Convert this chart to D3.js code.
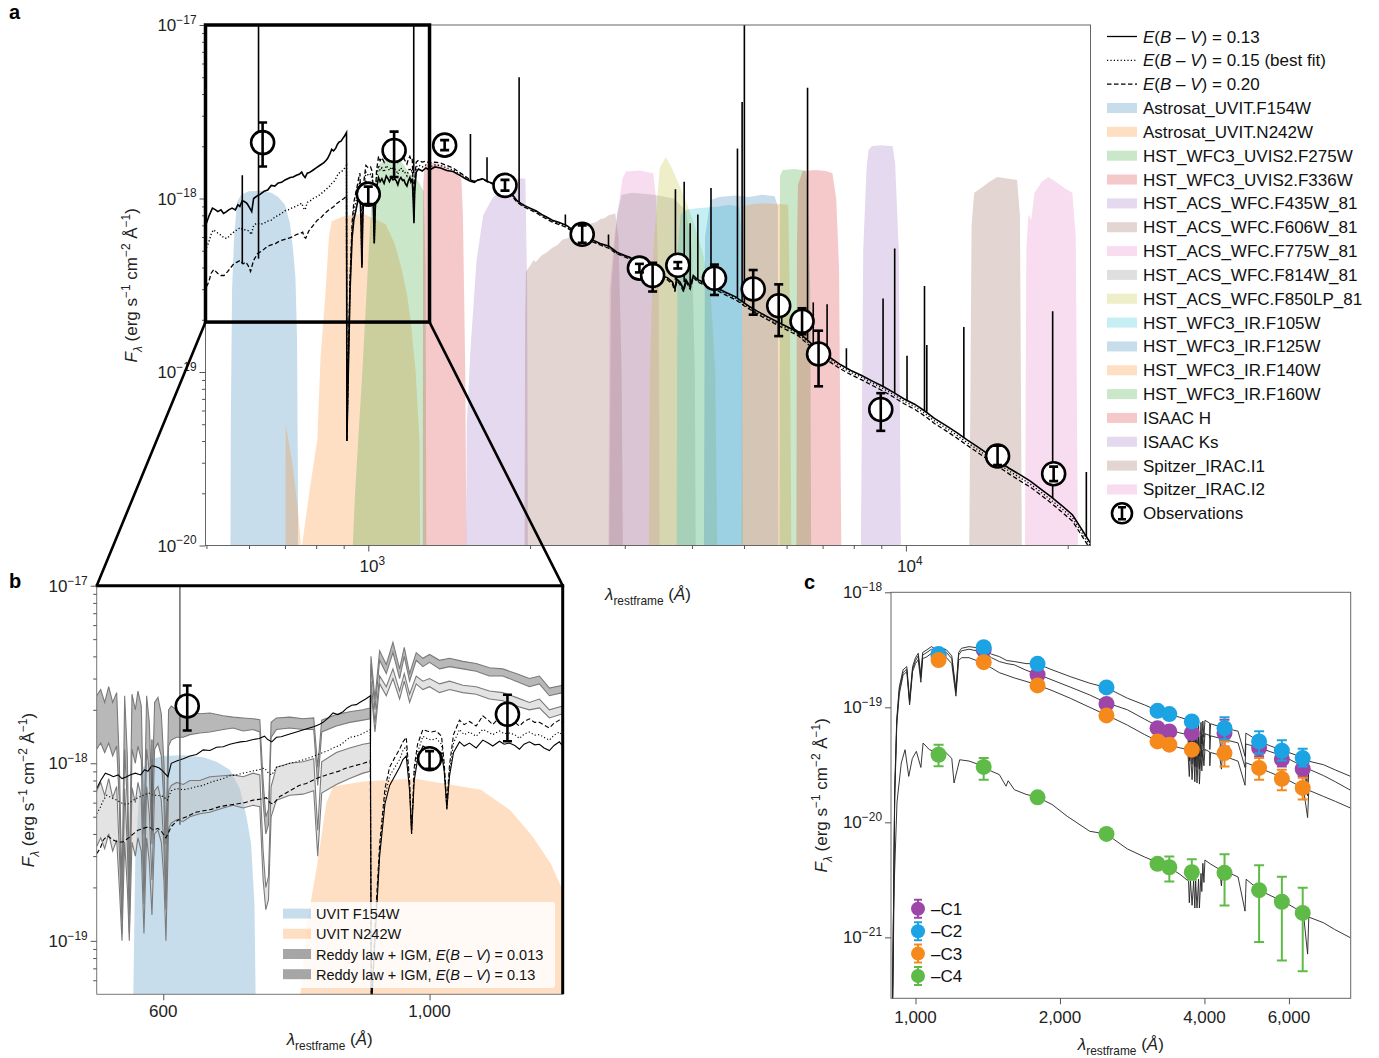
<!DOCTYPE html>
<html>
<head>
<meta charset="utf-8">
<script src="https://cdn.jsdelivr.net/npm/d3@7"></script>
<style>
body { margin: 0; background: #fff; }
svg { font-family: "Liberation Sans", Arial, sans-serif; }
</style>
</head>
<body>
<svg id="chart"></svg>
<script>
const W = 1379, H = 1058;
const UNIT = 1e-18;   // panel a/b fluxes are stored in units of 1e-18 erg/s/cm2/A
const CUNIT = 1e-20;  // panel c fluxes are stored in units of 1e-20

// ---------------- filter curves (rest-frame wavelength, flux-scaled height) ----------------
const bandF154W = [[553,0.001],[555,0.05],[558,0.30],[563,0.60],[570,0.95],[580,1.05],[600,1.10],[630,1.11],[660,1.08],[680,1.02],[700,0.92],[715,0.72],[725,0.50],[732,0.35],[737,0.16],[740,0.02],[741,0.001]];
const bandN242W = [[701,0.001],[702,0.05],[722,0.03],[740,0.016],[750,0.0098],[752,0.0098],[780,0.022],[804,0.041],[815,0.12],[832,0.28],[845,0.60],[855,0.74],[900,0.79],[977,0.82],[1021,0.77],[1077,0.71],[1121,0.545],[1155,0.386],[1182,0.273],[1200,0.193],[1225,0.10],[1245,0.04],[1255,0.001]];
const bandF275W = [[927,0.005],[945,0.02],[961,0.048],[975,0.10],[991,0.26],[1005,0.6],[1014,0.98],[1045,1.56],[1077,1.67],[1110,1.70],[1148,1.65],[1199,1.37],[1240,1.25],[1268,1.1],[1278,0.4],[1285,0.001]];
const bandF336W = [[1262,0.001],[1265,1.2],[1272,1.55],[1300,1.62],[1350,1.58],[1400,1.5],[1450,1.42],[1490,1.30],[1500,0.8],[1515,0.1],[1530,0.001]];
const bandF435W = [[1512,0.001],[1525,0.05],[1549,0.134],[1590,0.44],[1636,0.80],[1700,1.0],[1800,1.2],[1903,1.31],[1960,1.30],[1975,0.3],[1985,0.001]];
const bandF606W = [[1950,0.001],[1958,0.2],[1965,0.38],[2000,0.41],[2030,0.44],[2050,0.43],[2100,0.47],[2150,0.49],[2200,0.52],[2250,0.54],[2300,0.58],[2350,0.59],[2400,0.63],[2450,0.64],[2500,0.67],[2550,0.69],[2600,0.72],[2650,0.73],[2700,0.76],[2750,0.77],[2800,0.80],[2880,0.82],[2920,0.6],[2960,0.1],[2990,0.001]];
const bandF775W = [[2790,0.001],[2810,0.3],[2870,0.6],[2920,0.9],[2970,1.3],[3015,1.43],[3200,1.45],[3390,1.40],[3430,1.0],[3470,0.3],[3490,0.001]];
const bandF814W = [[2790,0.001],[2830,0.3],[2900,0.8],[2960,1.05],[3100,1.08],[3400,1.05],[3700,1.0],[3900,0.85],[4000,0.5],[4050,0.1],[4080,0.001]];
const bandF850LP = [[3315,0.001],[3340,0.1],[3391,0.5],[3484,1.5],[3575,1.73],[3650,1.55],[3745,1.30],[3880,1.0],[4024,0.735],[4180,0.5],[4325,0.313],[4420,0.1],[4490,0.001]];
const bandF105W = [[3740,0.001],[3760,0.5],[3810,0.81],[3900,0.86],[4100,0.88],[4300,0.89],[4500,0.90],[4700,0.92],[4900,0.90],[4950,0.6],[4990,0.001]];
const bandF125W = [[4200,0.001],[4230,0.6],[4330,0.98],[4500,1.02],[4800,1.04],[5100,1.02],[5400,1.05],[5700,1.03],[5780,0.9],[5800,0.001]];
const bandF140W = [[4940,0.001],[4960,0.9],[5200,0.93],[5500,0.94],[5800,0.93],[6040,0.92],[6080,0.3],[6150,0.001]];
const bandF160W = [[5815,0.001],[5830,1.35],[5900,1.46],[6200,1.48],[6500,1.45],[6560,1.2],[6640,0.3],[6680,0.001]];
const bandH = [[6250,0.001],[6270,0.5],[6300,1.2],[6430,1.44],[6800,1.46],[7100,1.44],[7300,1.40],[7420,1.0],[7510,0.4],[7630,0.001]];
const bandKs = [[8200,0.001],[8330,0.5],[8450,1.5],[8520,1.90],[8650,2.01],[9000,2.03],[9450,2.0],[9550,1.6],[9700,0.5],[9840,0.001]];
const bandI1 = [[13050,0.001],[13250,0.7],[13400,1.08],[13800,1.15],[14300,1.25],[14800,1.33],[15500,1.30],[16100,1.28],[16300,0.8],[16500,0.001]];
const bandI2 = [[16600,0.001],[16750,0.5],[16900,0.81],[17100,0.75],[17350,1.08],[17900,1.25],[18400,1.33],[19000,1.25],[19700,1.15],[20400,1.08],[20700,0.6],[21000,0.001]];

const filterNames = ['Astrosat_UVIT.F154W','Astrosat_UVIT.N242W','HST_WFC3_UVIS2.F275W','HST_WFC3_UVIS2.F336W',
  'HST_ACS_WFC.F435W_81','HST_ACS_WFC.F606W_81','HST_ACS_WFC.F775W_81','HST_ACS_WFC.F814W_81','HST_ACS_WFC.F850LP_81',
  'HST_WFC3_IR.F105W','HST_WFC3_IR.F125W','HST_WFC3_IR.F140W','HST_WFC3_IR.F160W','ISAAC H','ISAAC Ks','Spitzer_IRAC.I1','Spitzer_IRAC.I2'];
const filterCurves = [bandF154W,bandN242W,bandF275W,bandF336W,bandF435W,bandF606W,bandF775W,bandF814W,bandF850LP,
  bandF105W,bandF125W,bandF140W,bandF160W,bandH,bandKs,bandI1,bandI2];
const tab10 = ['#1f77b4','#ff7f0e','#2ca02c','#d62728','#9467bd','#8c564b','#e377c2','#7f7f7f','#bcbd22','#17becf'];

// ---------------- model spectra (rest-frame A, flux / 1e-18) ----------------
const specE013 = [[500,0.72],[506,0.80],[513,0.88],[520,0.86],[525,0.84],[532,0.86],[538,0.82],[545,0.84],[550,0.86],[558,0.88],[566,0.86],[572,0.92],[577,0.90],[583,0.97],[588,0.96],[594,0.94],[597,0.92],[602,0.88],[607,0.84],[612,1.00],[620,1.03],[630,1.06],[640,1.10],[650,1.12],[660,1.19],[670,1.18],[680,1.23],[690,1.24],[700,1.28],[708,1.30],[716,1.32],[725,1.33],[735,1.36],[744,1.38],[752,1.42],[757,1.36],[763,1.32],[770,1.40],[777,1.41],[790,1.46],[800,1.50],[812,1.55],[827,1.61],[835,1.66],[840,1.70],[848,1.80],[855,1.92],[862,1.88],[870,1.95],[876,2.05],[883,2.12],[890,2.14],[895,2.20],[904,2.30],[911,2.40],
  [912.5,0.04],[918,0.10],[925,0.30],[933,0.59],[940,0.75],[948,0.85],[955,0.95],[960,1.05],[965,1.10],[970,0.70],[973,0.40],[977,0.80],[982,1.05],[990,1.25],[996,1.22],[1003,1.18],[1010,1.20],[1018,1.14],[1022,0.90],[1026,0.55],[1030,0.85],[1036,1.15],[1045,1.32],[1052,1.25],[1060,1.30],[1070,1.22],[1080,1.35],[1088,1.30],[1095,1.25],[1105,1.33],[1112,1.28],[1120,1.30],[1128,1.26],[1135,1.20],[1142,1.28],[1150,1.32],[1158,1.27],[1165,1.28],[1172,1.22],[1180,1.18],[1187,1.26],[1195,1.32],[1200,1.25],[1207,1.30],[1212,1.00],[1216,0.72],[1220,1.10],[1228,1.42],[1240,1.48],[1260,1.44],[1280,1.50],[1300,1.46],[1330,1.52],[1363,1.50],[1400,1.45],[1438,1.43],[1480,1.36],[1517,1.30],[1545,1.26],[1575,1.24],[1600,1.28],[1632,1.30],[1680,1.24],[1724,1.21],[1760,1.20],[1785,1.18],[1820,1.12],[1850,1.06],[1886,0.98],[1920,0.94],[1954,0.91],[2000,0.88],[2050,0.85],[2101,0.81],[2150,0.78],[2200,0.75],[2260,0.73],[2338,0.70],[2400,0.66],[2460,0.63],[2515,0.61],[2600,0.58],[2700,0.55],[2805,0.53],[2900,0.49],[3000,0.47],[3071,0.457],[3200,0.41],[3300,0.39],[3360,0.378],[3500,0.36],[3600,0.35],[3680,0.33],[3720,0.30],[3745,0.344],[3800,0.33],[3860,0.30],[3900,0.34],[3970,0.31],[4024,0.36],[4100,0.34],[4200,0.33],[4300,0.32],[4405,0.313],[4500,0.30],[4650,0.285],[4823,0.271],[5000,0.25],[5100,0.24],[5280,0.225],[5500,0.21],[5775,0.194],[6000,0.183],[6318,0.169],[6600,0.150],[6912,0.133],[7200,0.122],[7564,0.110],[7900,0.102],[8276,0.0954],[8700,0.088],[9057,0.0827],[9500,0.076],[9910,0.0701],[10400,0.065],[10860,0.0594],[11300,0.054],[11880,0.0491],[12400,0.045],[13000,0.0406],[13600,0.037],[14230,0.0336],[14900,0.0305],[15580,0.0278],[16300,0.0256],[17040,0.0235],[17800,0.0212],[18660,0.019],[19500,0.0170],[20420,0.015],[21200,0.0125],[22100,0.0102]];
const specE015 = [[500,0.52],[505,0.56],[510,0.62],[515,0.66],[522,0.64],[530,0.62],[540,0.59],[547,0.59],[555,0.62],[562,0.64],[570,0.66],[578,0.68],[585,0.66],[592,0.66],[600,0.65],[606,0.62],[612,0.70],[620,0.72],[630,0.71],[640,0.72],[650,0.74],[660,0.75],[670,0.78],[680,0.80],[690,0.82],[700,0.85],[710,0.86],[720,0.88],[732,0.90],[744,0.92],[752,0.94],[758,0.88],[763,0.86],[770,0.95],[780,0.97],[790,1.00],[800,1.02],[812,1.05],[827,1.10],[840,1.15],[848,1.18],[855,1.22],[865,1.26],[872,1.32],[880,1.40],[890,1.42],[898,1.46],[904,1.50],[911,1.55],
  [912.5,0.04],[918,0.11],[925,0.32],[933,0.65],[940,0.85],[948,0.95],[955,1.05],[960,1.18],[965,1.25],[970,0.75],[973,0.40],[977,0.88],[982,1.15],[990,1.42],[996,1.38],[1003,1.35],[1010,1.38],[1018,1.28],[1022,0.95],[1026,0.55],[1030,0.90],[1036,1.30],[1045,1.55],[1052,1.45],[1060,1.50],[1070,1.42],[1080,1.55],[1088,1.50],[1095,1.45],[1105,1.52],[1112,1.47],[1120,1.48],[1128,1.45],[1135,1.38],[1142,1.46],[1150,1.50],[1158,1.44],[1165,1.45],[1172,1.40],[1180,1.35],[1187,1.44],[1195,1.50],[1200,1.43],[1207,1.46],[1212,1.10],[1216,0.75],[1220,1.20],[1228,1.52],[1240,1.56],[1260,1.52],[1280,1.56],[1300,1.52],[1330,1.56],[1363,1.55],[1400,1.50],[1438,1.46],[1480,1.38],[1517,1.32],[1545,1.27],[1575,1.25],[1600,1.28],[1632,1.30],[1680,1.24],[1724,1.21],[1760,1.19],[1785,1.17],[1820,1.11],[1850,1.05],[1886,0.97],[1920,0.93],[1954,0.90],[2000,0.87],[2050,0.84],[2101,0.80],[2150,0.77],[2200,0.74],[2260,0.72],[2338,0.69],[2400,0.65],[2460,0.62],[2515,0.60],[2600,0.57],[2700,0.545],[2805,0.52],[2900,0.485],[3000,0.465],[3071,0.452],[3200,0.405],[3300,0.385],[3360,0.374],[3500,0.355],[3600,0.345],[3680,0.325],[3720,0.295],[3745,0.34],[3800,0.325],[3860,0.295],[3900,0.335],[3970,0.305],[4024,0.355],[4100,0.335],[4200,0.325],[4300,0.315],[4405,0.308],[4500,0.295],[4650,0.28],[4823,0.266],[5000,0.245],[5100,0.236],[5280,0.221],[5500,0.206],[5775,0.19],[6000,0.179],[6318,0.165],[6600,0.147],[6912,0.130],[7200,0.119],[7564,0.107],[7900,0.0995],[8276,0.093],[8700,0.0858],[9057,0.0805],[9500,0.074],[9910,0.068],[10400,0.063],[10860,0.0575],[11300,0.0523],[11880,0.0475],[12400,0.0435],[13000,0.0392],[13600,0.0357],[14230,0.0324],[14900,0.0294],[15580,0.0268],[16300,0.0246],[17040,0.0226],[17800,0.0204],[18660,0.0182],[19500,0.0163],[20420,0.0144],[21200,0.0120],[22100,0.0098]];
const specE020 = [[500,0.31],[505,0.33],[510,0.37],[516,0.39],[525,0.37],[532,0.36],[539,0.36],[548,0.38],[555,0.40],[562,0.42],[570,0.43],[578,0.44],[585,0.42],[592,0.43],[598,0.41],[604,0.38],[612,0.44],[622,0.48],[635,0.50],[649,0.53],[660,0.54],[672,0.55],[685,0.57],[697,0.58],[710,0.59],[722,0.60],[735,0.62],[748,0.63],[755,0.64],[760,0.60],[765,0.59],[775,0.65],[790,0.70],[804,0.75],[815,0.77],[830,0.82],[845,0.86],[863,0.90],[875,0.94],[888,0.97],[901,1.00],[911,1.03],
  [912.5,0.04],[918,0.12],[925,0.35],[933,0.72],[940,0.95],[948,1.08],[955,1.20],[960,1.32],[965,1.40],[970,0.80],[973,0.42],[977,0.95],[982,1.28],[990,1.55],[996,1.52],[1003,1.50],[1010,1.52],[1018,1.42],[1022,1.00],[1026,0.60],[1030,0.98],[1036,1.45],[1045,1.75],[1052,1.65],[1060,1.72],[1070,1.62],[1080,1.85],[1088,1.75],[1095,1.65],[1105,1.82],[1112,1.72],[1120,1.75],[1128,1.70],[1135,1.62],[1142,1.72],[1150,1.78],[1158,1.70],[1165,1.70],[1172,1.64],[1180,1.58],[1187,1.68],[1195,1.75],[1200,1.68],[1207,1.70],[1212,1.20],[1216,0.78],[1220,1.30],[1228,1.62],[1240,1.66],[1260,1.62],[1280,1.64],[1300,1.60],[1330,1.62],[1363,1.60],[1400,1.55],[1438,1.50],[1480,1.41],[1517,1.34],[1545,1.28],[1575,1.26],[1600,1.28],[1632,1.29],[1680,1.23],[1724,1.20],[1760,1.18],[1785,1.16],[1820,1.10],[1850,1.04],[1886,0.96],[1920,0.92],[1954,0.89],[2000,0.86],[2050,0.83],[2101,0.79],[2150,0.76],[2200,0.73],[2260,0.71],[2338,0.68],[2400,0.645],[2460,0.615],[2515,0.595],[2600,0.565],[2700,0.54],[2805,0.515],[2900,0.48],[3000,0.46],[3071,0.447],[3200,0.40],[3300,0.38],[3360,0.37],[3500,0.35],[3600,0.34],[3680,0.32],[3720,0.29],[3745,0.335],[3800,0.32],[3860,0.29],[3900,0.33],[3970,0.30],[4024,0.35],[4100,0.33],[4200,0.32],[4300,0.31],[4405,0.303],[4500,0.29],[4650,0.275],[4823,0.261],[5000,0.241],[5100,0.232],[5280,0.217],[5500,0.202],[5775,0.186],[6000,0.175],[6318,0.161],[6600,0.143],[6912,0.126],[7200,0.115],[7564,0.104],[7900,0.0965],[8276,0.0900],[8700,0.0830],[9057,0.0778],[9500,0.0715],[9910,0.0658],[10400,0.0608],[10860,0.0555],[11300,0.0505],[11880,0.0458],[12400,0.0419],[13000,0.0378],[13600,0.0344],[14230,0.0312],[14900,0.0283],[15580,0.0258],[16300,0.0236],[17040,0.0217],[17800,0.0196],[18660,0.0175],[19500,0.0156],[20420,0.0138],[21200,0.0115],[22100,0.0094]];

// emission lines: [wavelength, base, peak]
const emissionLines = [[583,0.42,1.36],[625,0.45,10.5],[1215,1.40,11],[1549,1.27,2.35],[1663,1.25,1.73],[1908,0.95,5.0],[2326,0.70,0.81],[2798,0.53,0.62],
  [3727,0.34,1.13],[3869,0.33,1.25],[3970,0.32,0.72],[4102,0.34,0.81],[4340,0.32,1.15],[4861,0.268,1.94],[4959,0.255,3.6],[5007,0.25,11],
  [5876,0.19,0.28],[6563,0.154,4.35],[6725,0.146,0.252],[7136,0.124,0.246],[7751,0.106,0.137],[9069,0.0825,0.265],[9532,0.0755,0.515],
  [10049,0.068,0.124],[10830,0.06,0.313],[10938,0.059,0.143],[12818,0.0415,0.182],[18751,0.0188,0.224],[21661,0.0112,0.0265]];

// observations: wavelength, flux, lower, upper (1e-18)
const obsLambda = [636,1000,1117,1387,1796,2500,3194,3380,3765,4405,5200,5800,6410,6880,8980,14810,18830];
const obsFlux   = [2.10,1.06,1.89,2.03,1.19,0.622,0.397,0.360,0.412,0.347,0.301,0.241,0.196,0.127,0.0608,0.0328,0.0259];
const obsLo     = [1.53,0.93,1.33,1.90,1.11,0.555,0.375,0.291,0.395,0.278,0.214,0.161,0.165,0.0827,0.0458,0.0291,0.0235];
const obsHi     = [2.74,1.17,2.43,2.17,1.28,0.70,0.42,0.426,0.43,0.416,0.387,0.320,0.233,0.173,0.0755,0.0376,0.0285];

// panel b: Reddy law + IGM model bands [wavelength, lower, upper]
const reddy013 = [[500,1.20,2.40],[506,1.30,2.60],[512,1.15,2.20],[518,1.30,2.70],[524,1.10,2.20],[530,1.25,2.50],[534,0.60,1.00],[538,0.11,0.20],[542,1.20,2.40],[546,0.60,1.10],[549,0.11,0.22],[553,1.20,2.45],[558,1.00,2.00],[562,1.25,2.55],[567,1.05,2.10],[571,0.20,0.40],[575,1.20,2.40],[579,0.90,1.70],[583,0.35,0.60],[587,1.20,2.20],[592,1.30,2.35],[597,1.10,1.90],[601,0.60,1.00],[604,0.17,0.35],[608,1.25,2.00],[612,1.35,2.10],[620,1.40,2.00],[630,1.40,1.92],[640,1.45,1.95],[655,1.48,1.90],[670,1.50,1.92],[690,1.55,1.85],[705,1.58,1.82],[720,1.52,1.80],[735,1.55,1.78],[745,1.50,1.76],[750,0.60,0.80],[754,0.40,0.50],[758,0.45,0.55],[762,1.40,1.70],[770,1.55,1.80],[790,1.58,1.82],[810,1.55,1.78],[826,1.55,1.80],[832,0.75,0.95],[838,1.50,1.75],[860,1.62,1.88],[880,1.70,1.95],[900,1.75,2.00],[911,1.78,2.05],
  [912,3.6,4.0],[918,2.0,2.3],[925,3.8,4.3],[935,3.2,3.6],[945,4.2,4.8],[955,3.0,3.4],[962,4.0,4.5],[970,2.9,3.2],[980,3.8,4.2],[990,3.5,3.9],[1000,3.7,4.1],[1015,3.4,3.8],[1030,3.5,3.9],[1050,3.4,3.75],[1070,3.3,3.65],[1090,3.1,3.45],[1110,3.1,3.4],[1130,2.9,3.2],[1150,2.7,3.0],[1165,2.8,3.1],[1180,2.4,2.65],[1200,2.5,2.75]];
const reddy13 = [[500,0.34,0.70],[506,0.38,0.78],[512,0.33,0.66],[518,0.40,0.82],[524,0.32,0.64],[530,0.37,0.74],[534,0.20,0.32],[538,0.10,0.13],[542,0.36,0.72],[546,0.20,0.34],[549,0.10,0.14],[553,0.36,0.73],[558,0.30,0.60],[562,0.38,0.78],[567,0.32,0.64],[571,0.11,0.16],[575,0.38,0.74],[579,0.28,0.52],[583,0.14,0.22],[587,0.40,0.70],[592,0.42,0.74],[597,0.36,0.62],[601,0.22,0.34],[604,0.10,0.15],[608,0.43,0.70],[612,0.46,0.75],[620,0.48,0.78],[630,0.47,0.76],[640,0.50,0.80],[655,0.52,0.80],[670,0.53,0.84],[690,0.56,0.85],[705,0.58,0.86],[720,0.56,0.84],[735,0.58,0.88],[745,0.57,0.86],[750,0.22,0.32],[754,0.15,0.20],[758,0.17,0.23],[762,0.50,0.74],[770,0.62,0.95],[790,0.66,1.00],[810,0.67,1.02],[826,0.70,1.06],[832,0.30,0.42],[838,0.68,1.02],[860,0.76,1.15],[880,0.82,1.22],[900,0.88,1.28],[911,0.90,1.30],
  [912,2.6,2.9],[918,1.5,1.7],[925,2.8,3.1],[935,2.4,2.7],[945,3.0,3.4],[955,2.3,2.55],[962,2.9,3.2],[970,2.2,2.45],[980,2.8,3.1],[990,2.6,2.9],[1000,2.7,3.0],[1015,2.5,2.8],[1030,2.6,2.9],[1050,2.5,2.75],[1070,2.45,2.7],[1090,2.3,2.55],[1110,2.25,2.5],[1130,2.1,2.35],[1150,2.0,2.2],[1165,2.05,2.3],[1180,1.8,2.0],[1200,1.9,2.1]];

// ---------------- panel c: clumps C1-C4 (flux / 1e-20) ----------------
const cLambda = [1117,1387,1796,2500,3194,3380,3765,4405,5200,5800,6410];
const c1Flux = [28.0,31.6,19.2,10.7,6.59,6.17,5.97,5.97,4.43,3.55,2.91];
const c1Lo   = [26.6,30.0,18.3,10.2,6.26,5.86,5.67,4.56,3.75,3.06,2.52];
const c1Hi   = [29.4,33.2,20.2,11.2,6.92,6.48,6.27,7.81,5.05,4.13,3.39];
const c2Flux = [29.1,33.3,23.9,14.9,9.32,8.73,7.54,6.59,5.05,4.19,3.62];
const c2Lo   = [27.6,31.6,22.7,14.2,8.85,8.29,7.16,5.24,3.97,3.45,3.06];
const c2Hi   = [30.6,35.0,25.1,15.6,9.79,9.17,7.92,8.18,6.18,5.16,4.37];
const c3Flux = [25.8,24.7,15.5,8.50,5.05,4.73,4.28,4.00,2.97,2.39,1.99];
const c3Lo   = [24.5,23.5,14.7,8.08,4.80,4.49,4.07,3.06,2.35,1.90,1.58];
const c3Hi   = [27.1,25.9,16.3,8.93,5.30,4.97,4.49,5.05,3.62,2.87,2.44];
const c4Flux = [3.87,3.03,1.65,0.793,0.436,0.407,0.368,0.364,0.257,0.204,0.163];
const c4Lo   = [3.07,2.35,1.58,0.76,0.42,0.306,0.316,0.189,0.091,0.063,0.0507];
const c4Hi   = [4.73,3.62,1.72,0.83,0.455,0.505,0.477,0.527,0.424,0.336,0.27];

const c1Model = [[895,0.02],[905,1.8],[914,7.5],[925,14.0],[942,20.0],[959,21.5],[972,11.0],[986,21.5],[1000,25.5],[1013,28.0],[1026,18.0],[1035,28.5],[1056,30.0],[1079,32.0],[1109,30.0],[1140,31.0],[1160,30.0],[1190,26.5],[1214,13.5],[1230,28.5],[1247,31.0],[1293,32.0],[1340,31.0],[1386,30.5],[1440,27.0],[1495,25.0],[1550,24.0],[1607,23.4],[1700,21.0],[1791,19.5],[1925,17.3],[2100,15.0],[2307,12.8],[2493,11.0],[2764,9.52],[3000,7.9],[3206,6.82],[3373,6.38],[3550,6.0],[3692,5.78],[3720,3.4],[3740,5.7],[3770,3.2],[3798,5.65],[3820,3.05],[3835,5.6],[3860,3.0],[3889,5.55],[3905,2.9],[3935,5.6],[3950,3.7],[3970,5.8],[3990,4.2],[4010,5.9],[4101,5.7],[4105,4.3],[4120,5.65],[4300,5.4],[4340,4.0],[4360,5.35],[4408,5.25],[4700,4.9],[4861,3.0],[4880,4.8],[5205,4.45],[5500,4.1],[5855,3.75],[6200,3.3],[6430,3.07],[6563,1.7],[6600,2.9],[7080,2.55],[7500,2.25],[8066,1.90]];
const c2Model = [[895,0.02],[905,2.0],[914,8.0],[925,15.0],[942,21.2],[959,22.6],[972,11.6],[986,22.6],[1000,27.0],[1013,29.5],[1026,19.0],[1035,30.0],[1056,31.6],[1079,33.7],[1109,31.6],[1140,32.5],[1160,31.6],[1190,28.0],[1214,14.2],[1230,30.0],[1247,32.6],[1293,33.7],[1340,33.0],[1386,32.6],[1440,29.0],[1495,27.6],[1550,25.5],[1607,25.0],[1700,24.0],[1791,23.9],[1925,21.2],[2100,18.5],[2307,16.2],[2493,14.9],[2764,12.0],[3000,10.5],[3206,9.32],[3373,8.73],[3550,8.2],[3692,7.79],[3720,4.5],[3740,7.6],[3770,4.2],[3798,7.5],[3820,4.0],[3835,7.4],[3860,3.9],[3889,7.3],[3905,3.75],[3935,7.4],[3950,4.8],[3970,7.6],[3990,5.5],[4010,7.7],[4101,7.3],[4105,5.5],[4120,7.2],[4300,6.8],[4340,5.0],[4360,6.7],[4408,6.59],[4700,6.2],[4861,3.75],[4880,5.97],[5205,5.05],[5500,4.6],[5855,4.19],[6200,3.85],[6430,3.62],[6563,2.0],[6600,3.4],[7080,3.17],[7500,2.85],[8066,2.51]];
const c3Model = [[895,0.02],[905,1.6],[914,7.0],[925,13.0],[942,19.0],[959,20.5],[972,10.5],[986,20.5],[1000,24.0],[1013,26.0],[1026,16.5],[1035,26.5],[1056,27.5],[1079,29.5],[1109,27.0],[1140,28.0],[1160,27.0],[1190,24.0],[1214,12.5],[1230,25.5],[1247,27.0],[1293,27.0],[1340,25.5],[1386,24.2],[1440,22.0],[1495,20.0],[1550,19.0],[1607,18.0],[1700,16.8],[1791,15.7],[1925,14.0],[2100,12.0],[2307,10.0],[2493,8.62],[2764,7.0],[3000,5.8],[3206,5.05],[3373,4.73],[3550,4.45],[3692,4.28],[3720,2.5],[3740,4.25],[3770,2.35],[3798,4.2],[3820,2.25],[3835,4.15],[3860,2.2],[3889,4.1],[3905,2.15],[3935,4.15],[3950,2.8],[3970,4.25],[3990,3.1],[4010,4.3],[4101,4.1],[4105,3.1],[4120,4.05],[4300,3.85],[4340,2.9],[4360,3.8],[4408,3.75],[4700,3.4],[4861,2.1],[4880,3.3],[5205,2.97],[5500,2.7],[5855,2.43],[6200,2.15],[6430,1.99],[6563,1.1],[6600,1.9],[7080,1.68],[7500,1.52],[8066,1.33]];
const c4Model = [[895,0.02],[903,0.3],[915,1.5],[934,3.28],[951,4.28],[968,2.51],[985,3.6],[1004,4.14],[1026,3.0],[1037,4.89],[1069,4.28],[1100,4.1],[1117,3.9],[1160,4.0],[1190,3.6],[1203,2.20],[1220,2.8],[1236,3.50],[1293,3.41],[1350,3.2],[1416,2.87],[1495,2.60],[1544,2.06],[1560,2.3],[1607,1.92],[1700,1.75],[1796,1.65],[1925,1.43],[2070,1.13],[2307,0.836],[2500,0.79],[2764,0.587],[3000,0.5],[3206,0.444],[3380,0.405],[3561,0.352],[3706,0.308],[3720,0.20],[3740,0.31],[3770,0.19],[3798,0.31],[3820,0.18],[3835,0.31],[3860,0.18],[3889,0.32],[3905,0.18],[3935,0.36],[3950,0.25],[3970,0.44],[3990,0.30],[4010,0.47],[4115,0.435],[4300,0.39],[4340,0.28],[4360,0.38],[4424,0.376],[4700,0.335],[4861,0.169],[4887,0.32],[5205,0.257],[5500,0.23],[5855,0.204],[6200,0.178],[6430,0.163],[6563,0.0715],[6600,0.15],[7080,0.134],[7475,0.117],[8066,0.099]];

const compNames = ['–C1','–C2','–C3','–C4'];
const compColors = ['#9d46a8','#1ba3e3','#f5891c','#5fbb47'];

// ---------------- helpers ----------------
const svg = d3.select('#chart').attr('width', W).attr('height', H);
const defs = svg.append('defs');

function rich(textSel, parts, size) {
  let shift = 0;
  parts.forEach(p => {
    const target = p.sup ? -0.42 * size : p.sub ? 0.32 * size : 0;
    const ts = textSel.append('tspan').attr('dy', target - shift).text(p.t);
    if (p.sup || p.sub) ts.attr('font-size', size * 0.7);
    if (p.i) ts.attr('font-style', 'italic');
    shift = target;
  });
  return textSel;
}

function logMinor(lo, hi) {
  const out = [];
  for (let e = Math.floor(Math.log10(lo)); e <= Math.ceil(Math.log10(hi)); e++) {
    for (let m = 2; m <= 9; m++) {
      const v = m * Math.pow(10, e);
      if (v > lo && v < hi) out.push(v);
    }
  }
  return out;
}

function tickAxis(g, axisFn, scale, values, size) {
  g.call(axisFn(scale).tickValues(values).tickFormat('').tickSize(size).tickSizeOuter(0))
    .call(s => s.select('.domain').remove())
    .call(s => s.selectAll('line').attr('stroke', '#555').attr('stroke-width', 1));
}

function expLabel(g, x, y, exp, anchor) {
  const t = g.append('text').attr('x', x).attr('y', y).attr('text-anchor', anchor)
    .attr('font-size', 17).attr('fill', '#222');
  rich(t, [{t: '10'}, {t: exp, sup: true}], 17);
}

function yTitle(g, x, y) {
  const t = g.append('text').attr('transform', `translate(${x},${y}) rotate(-90)`)
    .attr('text-anchor', 'middle').attr('font-size', 17).attr('fill', '#222');
  rich(t, [{t: 'F', i: 1}, {t: 'λ', sub: 1, i: 1}, {t: ' (erg s'}, {t: '−1', sup: 1}, {t: ' cm'}, {t: '−2', sup: 1}, {t: ' Å'}, {t: '−1', sup: 1}, {t: ')'}], 17);
}

function xTitle(g, x, y) {
  const t = g.append('text').attr('x', x).attr('y', y).attr('text-anchor', 'middle')
    .attr('font-size', 17).attr('fill', '#222');
  rich(t, [{t: 'λ', i: 1}, {t: 'restframe', sub: 1}, {t: ' ('}, {t: 'Å', i: 1}, {t: ')'}], 17);
}

function clip(id, x0, y0, x1, y1) {
  defs.append('clipPath').attr('id', id).append('rect')
    .attr('x', x0).attr('y', y0).attr('width', x1 - x0).attr('height', y1 - y0);
  return `url(#${id})`;
}

function ebvParts(val) {
  return [{t: 'E', i: 1}, {t: '('}, {t: 'B', i: 1}, {t: ' – '}, {t: 'V', i: 1}, {t: ') = ' + val}];
}

const lineStyles = [
  {dash: null, w: 1.6},
  {dash: '1.2,2.2', w: 1.4},
  {dash: '4.5,2.5', w: 1.3}
];
const specs = [specE013, specE015, specE020];

// =================== PANEL A ===================
const A = {x0: 205.5, x1: 1090.5, y0: 25, y1: 545.5};
const xA = d3.scaleLog().domain([498, 22050]).range([A.x0, A.x1]);
const yA = d3.scaleLog().domain([1e-20, 1e-17]).range([A.y1, A.y0]);
const gA = svg.append('g');
const plotA = gA.append('g').attr('clip-path', clip('clipA', A.x0, A.y0, A.x1, A.y1));

const areaA = d3.area().x(d => xA(d[0])).y0(A.y1 + 5).y1(d => yA(d[1] * UNIT));
plotA.selectAll('path.filter').data(filterCurves).join('path')
  .attr('class', 'filter')
  .attr('d', areaA)
  .attr('fill', (d, i) => tab10[i % 10])
  .attr('fill-opacity', 0.25);

const lineA = d3.line().x(d => xA(d[0])).y(d => yA(d[1] * UNIT));
plotA.selectAll('path.spec').data(specs).join('path')
  .attr('class', 'spec')
  .attr('d', lineA)
  .attr('fill', 'none').attr('stroke', '#000')
  .attr('stroke-width', (d, i) => lineStyles[i].w)
  .attr('stroke-dasharray', (d, i) => lineStyles[i].dash);

plotA.selectAll('line.em').data(emissionLines).join('line')
  .attr('class', 'em')
  .attr('x1', d => xA(d[0])).attr('x2', d => xA(d[0]))
  .attr('y1', d => yA(d[1] * UNIT)).attr('y2', d => yA(d[2] * UNIT))
  .attr('stroke', '#000').attr('stroke-width', 1.6);

function drawObs(g, xs, ys, idx, r) {
  const gg = g.append('g');
  gg.selectAll('circle').data(idx).join('circle')
    .attr('cx', i => xs(obsLambda[i])).attr('cy', i => ys(obsFlux[i] * UNIT)).attr('r', r)
    .attr('fill', '#fff').attr('stroke', '#000').attr('stroke-width', 2.6);
  const eb = gg.selectAll('g.eb').data(idx).join('g').attr('class', 'eb');
  eb.append('line')
    .attr('x1', i => xs(obsLambda[i])).attr('x2', i => xs(obsLambda[i]))
    .attr('y1', i => ys(obsLo[i] * UNIT)).attr('y2', i => ys(obsHi[i] * UNIT));
  eb.append('line')
    .attr('x1', i => xs(obsLambda[i]) - 4.5).attr('x2', i => xs(obsLambda[i]) + 4.5)
    .attr('y1', i => ys(obsLo[i] * UNIT)).attr('y2', i => ys(obsLo[i] * UNIT));
  eb.append('line')
    .attr('x1', i => xs(obsLambda[i]) - 4.5).attr('x2', i => xs(obsLambda[i]) + 4.5)
    .attr('y1', i => ys(obsHi[i] * UNIT)).attr('y2', i => ys(obsHi[i] * UNIT));
  eb.selectAll('line').attr('stroke', '#000').attr('stroke-width', 2.6);
}
drawObs(plotA, xA, yA, d3.range(obsLambda.length), 11.5);

// frame + ticks
gA.append('rect').attr('x', A.x0).attr('y', A.y0).attr('width', A.x1 - A.x0).attr('height', A.y1 - A.y0)
  .attr('fill', 'none').attr('stroke', '#666').attr('stroke-width', 1);
tickAxis(gA.append('g').attr('transform', `translate(${A.x0},0)`), d3.axisLeft, yA, [1e-20, 1e-19, 1e-18, 1e-17], 6);
tickAxis(gA.append('g').attr('transform', `translate(${A.x0},0)`), d3.axisLeft, yA, logMinor(1e-20, 1e-17), 3.5);
tickAxis(gA.append('g').attr('transform', `translate(0,${A.y1})`), d3.axisBottom, xA, [1e3, 1e4], 6);
tickAxis(gA.append('g').attr('transform', `translate(0,${A.y1})`), d3.axisBottom, xA, logMinor(498, 22050), 3.5);
[-20, -19, -18, -17].forEach(e => expLabel(gA, A.x0 - 9, yA(Math.pow(10, e)) + 6, '−' + (-e), 'end'));
[3, 4].forEach(e => expLabel(gA, xA(Math.pow(10, e)) + 4, 572, String(e), 'middle'));
yTitle(gA, 137, (A.y0 + A.y1) / 2);
xTitle(gA, (A.x0 + A.x1) / 2, 600);
gA.append('text').attr('x', 9).attr('y', 19).attr('font-size', 20).attr('font-weight', 'bold').text('a');

// zoom rectangle (region shown in panel b)
const zoomLam = [498, 1300], zoomFlux = [0.194, 10];
gA.append('rect')
  .attr('x', xA(zoomLam[0])).attr('y', yA(zoomFlux[1] * UNIT))
  .attr('width', xA(zoomLam[1]) - xA(zoomLam[0]))
  .attr('height', yA(zoomFlux[0] * UNIT) - yA(zoomFlux[1] * UNIT))
  .attr('fill', 'none').attr('stroke', '#000').attr('stroke-width', 3.5);

// legend a
const legA = gA.append('g');
const LY0 = 36.5, LDY = 23.84;
lineStyles.forEach((s, i) => {
  legA.append('line').attr('x1', 1107).attr('x2', 1137).attr('y1', LY0 + i * LDY).attr('y2', LY0 + i * LDY)
    .attr('stroke', '#000').attr('stroke-width', 1.3).attr('stroke-dasharray', s.dash);
});
const ebvVals = ['0.13', '0.15 (best fit)', '0.20'];
ebvVals.forEach((v, i) => {
  const t = legA.append('text').attr('x', 1143).attr('y', LY0 + i * LDY + 6).attr('font-size', 17).attr('fill', '#111');
  rich(t, ebvParts(v), 17);
});
filterNames.forEach((n, i) => {
  const y = LY0 + (i + 3) * LDY;
  legA.append('rect').attr('x', 1107).attr('y', y - 5).attr('width', 30).attr('height', 10)
    .attr('fill', tab10[i % 10]).attr('fill-opacity', 0.25);
  legA.append('text').attr('x', 1143).attr('y', y + 6).attr('font-size', 17).attr('fill', '#111').text(n);
});
{
  const y = LY0 + 20 * LDY;
  legA.append('circle').attr('cx', 1122).attr('cy', y).attr('r', 10).attr('fill', '#fff').attr('stroke', '#000').attr('stroke-width', 2.6);
  legA.append('path').attr('d', `M1122,${y - 6}V${y + 6}M1118,${y - 6}H1126M1118,${y + 6}H1126`).attr('stroke', '#000').attr('stroke-width', 2.6);
  legA.append('text').attr('x', 1143).attr('y', y + 6).attr('font-size', 17).attr('fill', '#111').text('Observations');
}

// =================== PANEL B ===================
const B = {x0: 96.7, x1: 562.7, y0: 585.7, y1: 994.3};
const xB = d3.scaleLinear().domain([500, 1200]).range([B.x0, B.x1]);
const yB = d3.scaleLog().domain([5e-20, 1e-17]).range([B.y1, B.y0]);
const gB = svg.append('g');
const plotB = gB.append('g').attr('clip-path', clip('clipB', B.x0, B.y0, B.x1, B.y1));

const areaB = d3.area().x(d => xB(d[0])).y0(B.y1 + 5).y1(d => yB(d[1] * UNIT));
plotB.selectAll('path.filter').data([bandF154W, bandN242W]).join('path')
  .attr('class', 'filter').attr('d', areaB)
  .attr('fill', (d, i) => tab10[i]).attr('fill-opacity', 0.25);

const bandArea = d3.area().x(d => xB(d[0])).y0(d => yB(d[1] * UNIT)).y1(d => yB(d[2] * UNIT));
const bandFill = [{c: '#a0a0a0', o: 0.75}, {c: '#c0c0c0', o: 0.45}];
[reddy013, reddy13].forEach((band, i) => {
  plotB.append('path').attr('d', bandArea(band)).attr('fill', bandFill[i].c).attr('fill-opacity', bandFill[i].o);
  [1, 2].forEach(k => {
    plotB.append('path')
      .attr('d', d3.line().x(d => xB(d[0])).y(d => yB(d[k] * UNIT))(band))
      .attr('fill', 'none').attr('stroke', '#7a7a7a').attr('stroke-width', 1.1);
  });
});

const lineB = d3.line().x(d => xB(d[0])).y(d => yB(d[1] * UNIT));
plotB.selectAll('path.spec').data(specs).join('path')
  .attr('class', 'spec').attr('d', lineB)
  .attr('fill', 'none').attr('stroke', '#000')
  .attr('stroke-width', 1.1)
  .attr('stroke-dasharray', (d, i) => lineStyles[i].dash);
plotB.selectAll('line.em').data(emissionLines.filter(d => d[0] < 1200)).join('line')
  .attr('class', 'em')
  .attr('x1', d => xB(d[0])).attr('x2', d => xB(d[0]))
  .attr('y1', d => yB(d[1] * UNIT)).attr('y2', d => yB(d[2] * UNIT))
  .attr('stroke', '#555').attr('stroke-width', 1.3);
drawObs(plotB, xB, yB, d3.range(obsLambda.length).filter(i => obsLambda[i] < 1200), 11.5);

// legend b
const legB = gB.append('g');
legB.append('rect').attr('x', 278).attr('y', 902).attr('width', 277).attr('height', 86).attr('rx', 3)
  .attr('fill', '#fff').attr('fill-opacity', 0.85);
const legBItems = [
  {c: tab10[0], o: 0.25, parts: [{t: 'UVIT F154W'}]},
  {c: tab10[1], o: 0.25, parts: [{t: 'UVIT N242W'}]},
  {c: '#a6a6a6', o: 1, parts: [{t: 'Reddy law + IGM, '}].concat(ebvParts('0.013'))},
  {c: '#a6a6a6', o: 1, parts: [{t: 'Reddy law + IGM, '}].concat(ebvParts('0.13'))}
];
legBItems.forEach((it, i) => {
  const y = 913.6 + i * 20.2;
  legB.append('rect').attr('x', 283).attr('y', y - 5).attr('width', 28).attr('height', 10).attr('fill', it.c).attr('fill-opacity', it.o);
  const t = legB.append('text').attr('x', 316).attr('y', y + 5.5).attr('font-size', 14.5).attr('fill', '#111');
  rich(t, it.parts, 14.5);
});

gB.append('line').attr('x1', B.x0).attr('x2', B.x0).attr('y1', B.y0).attr('y2', B.y1).attr('stroke', '#777');
gB.append('line').attr('x1', B.x0).attr('x2', B.x1).attr('y1', B.y1).attr('y2', B.y1).attr('stroke', '#777');
gB.append('line').attr('x1', B.x0 - 1).attr('x2', B.x1 + 1.5).attr('y1', B.y0).attr('y2', B.y0).attr('stroke', '#000').attr('stroke-width', 3);
gB.append('line').attr('x1', B.x1).attr('x2', B.x1).attr('y1', B.y0).attr('y2', B.y1).attr('stroke', '#000').attr('stroke-width', 3);
tickAxis(gB.append('g').attr('transform', `translate(${B.x0},0)`), d3.axisLeft, yB, [1e-19, 1e-18, 1e-17], 6);
tickAxis(gB.append('g').attr('transform', `translate(${B.x0},0)`), d3.axisLeft, yB, logMinor(5e-20, 1e-17), 3.5);
tickAxis(gB.append('g').attr('transform', `translate(0,${B.y1})`), d3.axisBottom, xB, [600, 1000], 6);
[-19, -18, -17].forEach(e => expLabel(gB, B.x0 - 9, yB(Math.pow(10, e)) + 6, '−' + (-e), 'end'));
[600, 1000].forEach(v => gB.append('text').attr('x', xB(v)).attr('y', 1017).attr('text-anchor', 'middle')
  .attr('font-size', 17).attr('fill', '#222').text(d3.format(',')(v)));
yTitle(gB, 34, (B.y0 + B.y1) / 2);
xTitle(gB, (B.x0 + B.x1) / 2, 1045);
gB.append('text').attr('x', 9).attr('y', 588).attr('font-size', 20).attr('font-weight', 'bold').text('b');

// connectors between panel a zoom box and panel b
svg.append('path')
  .attr('d', `M${xA(zoomLam[0])},${yA(zoomFlux[0] * UNIT)}L${B.x0},${B.y0}M${xA(zoomLam[1])},${yA(zoomFlux[0] * UNIT)}L${B.x1},${B.y0}`)
  .attr('stroke', '#000').attr('stroke-width', 2.6).attr('fill', 'none');

// =================== PANEL C ===================
const C = {x0: 891, x1: 1350.7, y0: 592.3, y1: 998.3};
const xC = d3.scaleLog().domain([889, 8070]).range([C.x0, C.x1]);
const yC = d3.scaleLog().domain([Math.pow(10, -21.53), 1e-18]).range([C.y1, C.y0]);
const gC = svg.append('g');
const plotC = gC.append('g').attr('clip-path', clip('clipC', C.x0, C.y0, C.x1, C.y1));
const lineC = d3.line().x(d => xC(d[0])).y(d => yC(d[1] * CUNIT));
plotC.selectAll('path.model').data([c1Model, c2Model, c3Model, c4Model]).join('path')
  .attr('class', 'model').attr('d', lineC)
  .attr('fill', 'none').attr('stroke', '#222').attr('stroke-width', 0.9);

const comps = [[c1Flux, c1Lo, c1Hi], [c2Flux, c2Lo, c2Hi], [c3Flux, c3Lo, c3Hi], [c4Flux, c4Lo, c4Hi]];
comps.forEach(([f, lo, hi], k) => {
  const g = plotC.append('g').attr('stroke', compColors[k]).attr('fill', compColors[k]);
  cLambda.forEach((lam, i) => {
    const x = xC(lam);
    g.append('line').attr('x1', x).attr('x2', x).attr('y1', yC(lo[i] * CUNIT)).attr('y2', yC(hi[i] * CUNIT)).attr('stroke-width', 2);
    g.append('line').attr('x1', x - 5).attr('x2', x + 5).attr('y1', yC(lo[i] * CUNIT)).attr('y2', yC(lo[i] * CUNIT)).attr('stroke-width', 2);
    g.append('line').attr('x1', x - 5).attr('x2', x + 5).attr('y1', yC(hi[i] * CUNIT)).attr('y2', yC(hi[i] * CUNIT)).attr('stroke-width', 2);
    g.append('circle').attr('cx', x).attr('cy', yC(f[i] * CUNIT)).attr('r', 8).attr('stroke', 'none');
  });
});

gC.append('rect').attr('x', C.x0).attr('y', C.y0).attr('width', C.x1 - C.x0).attr('height', C.y1 - C.y0)
  .attr('fill', 'none').attr('stroke', '#666').attr('stroke-width', 1);
tickAxis(gC.append('g').attr('transform', `translate(${C.x0},0)`), d3.axisLeft, yC, [1e-21, 1e-20, 1e-19, 1e-18], 6);
tickAxis(gC.append('g').attr('transform', `translate(0,${C.y1})`), d3.axisBottom, xC, [1000, 2000, 4000, 6000], 6);
[-21, -20, -19, -18].forEach(e => expLabel(gC, C.x0 - 9, yC(Math.pow(10, e)) + 6, '−' + (-e), 'end'));
[1000, 2000, 4000, 6000].forEach(v => gC.append('text').attr('x', xC(v)).attr('y', 1023).attr('text-anchor', 'middle')
  .attr('font-size', 17).attr('fill', '#222').text(d3.format(',')(v)));
yTitle(gC, 827, (C.y0 + C.y1) / 2);
xTitle(gC, (C.x0 + C.x1) / 2, 1050);
gC.append('text').attr('x', 804).attr('y', 589).attr('font-size', 20).attr('font-weight', 'bold').text('c');

// legend c
compNames.forEach((n, k) => {
  const y = 908.8 + k * 22.4;
  const g = gC.append('g').attr('stroke', compColors[k]).attr('fill', compColors[k]);
  g.append('path').attr('d', `M918,${y - 9}V${y + 9}M914,${y - 9}H922M914,${y + 9}H922`).attr('stroke-width', 2).attr('fill', 'none');
  g.append('circle').attr('cx', 918).attr('cy', y).attr('r', 7).attr('stroke', 'none');
  gC.append('text').attr('x', 931).attr('y', y + 6).attr('font-size', 17).attr('fill', '#111').text(n);
});
</script>
</body>
</html>
